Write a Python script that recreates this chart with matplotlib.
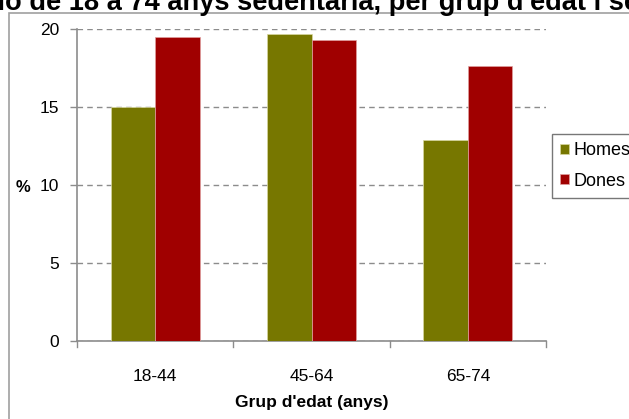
import matplotlib
matplotlib.use("Agg")
import matplotlib.pyplot as plt
from matplotlib.patches import Rectangle
import numpy as np

plt.rcParams['font.family'] = ['Liberation Sans', 'DejaVu Sans']

groups = ['18-44', '45-64', '65-74']
homes = [15.0, 19.7, 12.9]
dones = [19.5, 19.3, 17.6]
yticks = [0, 5, 10, 15, 20]
title = "Població de 18 a 74 anys sedentària, per grup d'edat i sexe"

green = '#777700'
red = '#A00000'
grey = '#8c8c8c'

W, H = 629, 419
fig = plt.figure(figsize=(W / 100, H / 100), dpi=100)

# outer chart frame (runs off the right and bottom edges)
fig.patches.append(Rectangle((9 / W, -0.05), 1.2, 1 - 13 / H + 0.05,
                             transform=fig.transFigure, fill=False,
                             edgecolor='#a0a0a0', linewidth=1.2))

ax = fig.add_axes([77 / W, 1 - 341 / H, (546 - 77) / W, (341 - 29) / H])

x = np.arange(len(groups))
bw = 0.285
ax.bar(x - bw / 2, homes, bw, color=green, edgecolor='#d8d8a0', linewidth=0.5,
       label='Homes', zorder=3)
ax.bar(x + bw / 2, dones, bw, color=red, edgecolor='#e0a0a0', linewidth=0.5,
       label='Dones', zorder=3)

ax.set_xlim(-0.5, 2.5)
ax.set_ylim(0, 20)
ax.set_yticks(yticks)
ax.set_yticklabels([str(t) for t in yticks], fontsize=12.5)
ax.yaxis.grid(True, linestyle=(0, (4, 3)), color=grey, linewidth=1, zorder=0)

ax.set_xticks(x)
ax.set_xticklabels(groups, fontsize=12.5)
ax.tick_params(axis='x', length=0, pad=20)
ax.tick_params(axis='y', length=5, color=grey, width=1, pad=8)
# group boundary ticks on the category axis
for b in [-0.5, 0.5, 1.5, 2.5]:
    ax.plot([b, b], [0, -0.4], color=grey, lw=1, clip_on=False, zorder=4)

for s in ['top', 'right']:
    ax.spines[s].set_visible(False)
for s in ['left', 'bottom']:
    ax.spines[s].set_color(grey)
    ax.spines[s].set_linewidth(1.2)

ax.set_xlabel("Grup d'edat (anys)", fontsize=12.5, fontweight='bold', labelpad=8)
fig.text(23 / W, 1 - 187 / H, '%', fontsize=12, fontweight='bold',
         ha='center', va='center')

leg = ax.legend(loc='upper left', bbox_to_anchor=(552 / W, 1 - 134 / H),
                bbox_transform=fig.transFigure, fontsize=13, frameon=True,
                fancybox=False, edgecolor='#555555', handlelength=0.5,
                handleheight=0.5, handletextpad=0.25, borderpad=0.45,
                labelspacing=0.75, borderaxespad=0)
leg.get_frame().set_linewidth(1)

# title is wider than the picture: place it so "Poblac" falls off the left
tsize = 19.6
renderer = fig.canvas.get_renderer()
probe = fig.text(0, 0, "Poblaci", fontsize=tsize, fontweight='bold')
wprobe = probe.get_window_extent(renderer).width
probe.remove()
fig.text((5 - wprobe) / W, 1 - 9.5 / H, title,
         fontsize=tsize, fontweight='bold', ha='left', va='baseline')

fig.savefig('out.png', dpi=100)
